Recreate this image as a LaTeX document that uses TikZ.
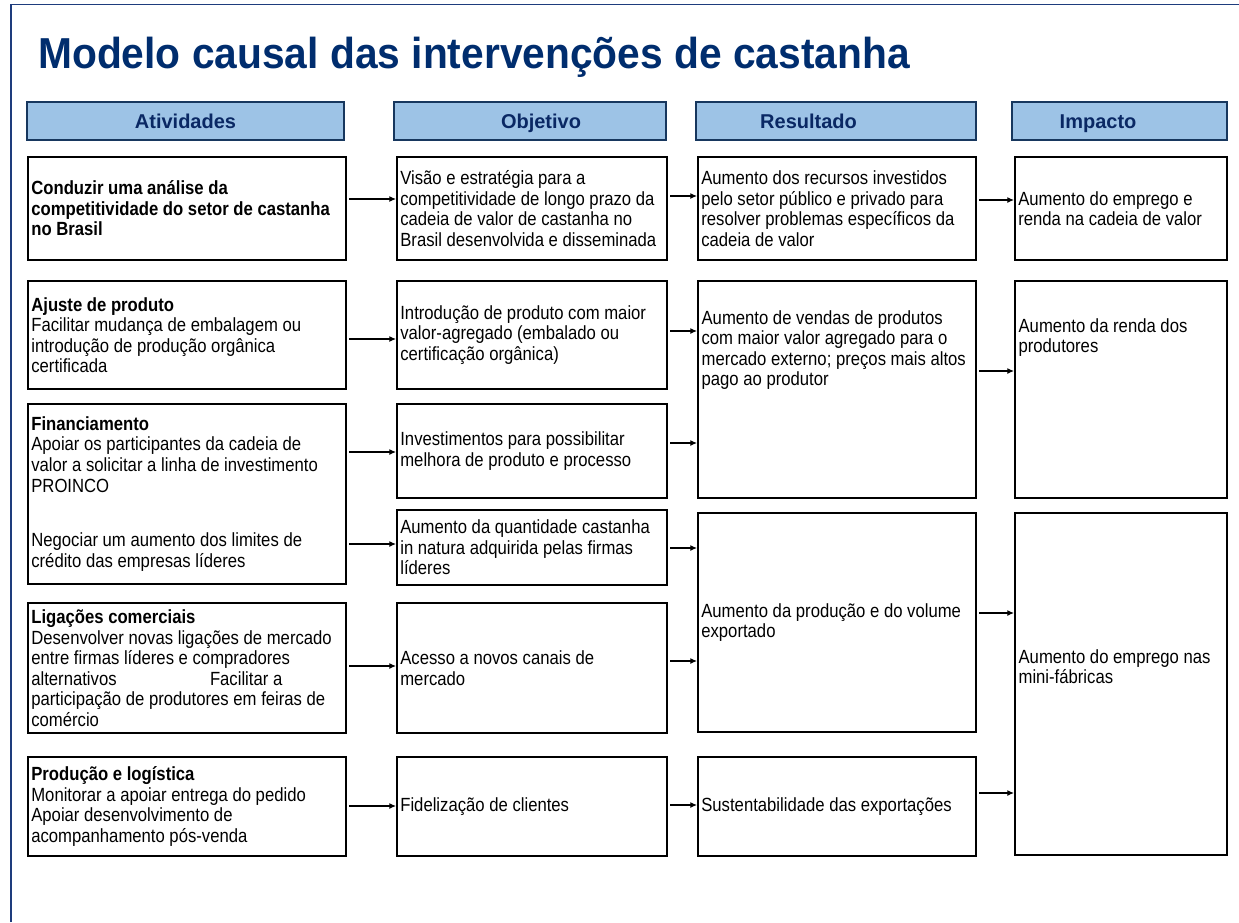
\documentclass[tikz,border=0pt]{standalone}
\usepackage{fontspec}
\setmainfont{Liberation Sans}
\newfontfamily\boxfont{Liberation Sans}[FakeStretch=0.875]
\newfontfamily\titlefont{Liberation Sans}[FakeStretch=0.94]
\usetikzlibrary{%
  arrows.meta,
}

\definecolor{titleblue}{RGB}{0,45,110}
\definecolor{headblue}{RGB}{10,40,100}
\definecolor{headfill}{RGB}{157,195,230}
\definecolor{headline}{RGB}{23,55,94}
\definecolor{framecol}{RGB}{30,60,125}

\begin{document}
\begin{tikzpicture}[%
           x=0.75pt, y=-0.75pt,
           box/.style={
             % The shape:
             rectangle,
             anchor=north west,
             % The border:
             draw=black,
             line width=1.5pt,
             % The text:
             align=flush left,
             inner xsep=2.5pt,
             inner ysep=0pt,
             font=\boxfont\fontsize{14.3pt}{15.4pt}\selectfont,
           },
           act/.style={box, minimum width=238.5pt, text width=233.5pt},
           obj/.style={box, minimum width=202.5pt, text width=197.5pt},
           res/.style={box, minimum width=208.5pt, text width=203.5pt},
           imp/.style={box, minimum width=159pt, text width=154pt},
           head/.style={
             rectangle,
             anchor=north west,
             minimum height=28.5pt,
             line width=1.5pt,
             draw=headline,
             fill=headfill,
           },
           headtext/.style={
             text=headblue,
             text height=10.5pt,
             text depth=0pt,
             font=\bfseries\fontsize{15pt}{18pt}\selectfont,
           },
           toptext/.style={
             anchor=north west,
             align=flush left,
             inner sep=0pt,
             font=\boxfont\fontsize{14.3pt}{15.4pt}\selectfont,
           },
           link/.style={
             -{Latex[length=5pt, width=4.5pt]},
             line width=0.9pt,
             shorten <=1.5pt,
           }]

         \useasboundingbox (0,0) rectangle (1239,922);
         \draw[framecol, line width=1pt] (11,922) -- (11,4.5) -- (1239,4.5);

         \node[anchor=base west, inner sep=0pt, text=titleblue,
               font=\titlefont\bfseries\fontsize{32.5pt}{38pt}\selectfont] (title) at (38,68)
               {Modelo causal das interven\c{c}\~oes de castanha};

         % column heads
         \node[head, minimum width=237.75pt] (hact) at (26,101) {};
         \node[head, minimum width=204pt] (hobj) at (393,101) {};
         \node[head, minimum width=210pt] (hres) at (695,101) {};
         \node[head, minimum width=161.25pt] (himp) at (1011,101) {};
         \node[headtext] (tact) at (hact.center) {Atividades};
         \node[headtext] (tobj) at ([xshift=8.25pt]hobj.center) {Objetivo};
         \node[headtext] (tres) at ([xshift=-20.6pt]hres.center) {Resultado};
         \node[headtext] (timp) at ([xshift=-16.1pt]himp.center) {Impacto};

         % Atividades
         \node[act, minimum height=77.25pt, font=\boxfont\bfseries\fontsize{14.3pt}{15.4pt}\selectfont] (act1) at (27,156)
               {Conduzir uma análise da\\competitividade do setor de castanha\\no Brasil};
         \node[act, minimum height=81pt] (act2) at (27,280)
               {\textbf{Ajuste de produto}\\Facilitar mudança de embalagem ou\\introdução de produção orgânica\\certificada};
         \node[act, minimum height=135pt] (act3) at (27,403)
               {\textbf{Financiamento}\\Apoiar os participantes da cadeia de\\valor a solicitar a linha de investimento\\PROINCO\\[25.75pt]Negociar um aumento dos limites de\\crédito das empresas líderes};
         \node[act, minimum height=97.5pt] (act4) at (27,602)
               {\textbf{Ligações comerciais}\\Desenvolver novas ligações de mercado\\entre firmas líderes e compradores\\\makebox[134pt][l]{alternativos}Facilitar a\\participação de produtores em feiras de\\comércio};
         \node[act, minimum height=74.25pt] (act5) at (27,756)
               {\textbf{Produção e logística}\\Monitorar a apoiar entrega do pedido\\Apoiar desenvolvimento de\\acompanhamento pós-venda};

         % Objetivo
         \node[obj, minimum height=77.25pt] (obj1) at (396,156)
               {Visão e estratégia para a\\competitividade de longo prazo da\\cadeia de valor de castanha no\\Brasil desenvolvida e disseminada};
         \node[obj, minimum height=81pt] (obj2) at (396,280)
               {Introdução de produto com maior\\valor-agregado (embalado ou\\certificação orgânica)};
         \node[obj, minimum height=70.5pt] (obj3) at (396,403)
               {Investimentos para possibilitar\\melhora de produto e processo};
         \node[obj, minimum height=56.25pt] (obj4) at (396,509)
               {Aumento da quantidade castanha\\in natura adquirida pelas firmas\\líderes};
         \node[obj, minimum height=97.5pt] (obj5) at (396,602)
               {Acesso a novos canais de\\mercado};
         \node[obj, minimum height=74.25pt] (obj6) at (396,756)
               {Fidelização de clientes};

         % Resultado
         \node[res, minimum height=77.25pt] (res1) at (697,156)
               {Aumento dos recursos investidos\\pelo setor público e privado para\\resolver problemas específicos da\\cadeia de valor};
         \node[res, minimum height=162.75pt] (res2) at (697,280) {};
         \node[toptext] (res2t) at ([xshift=3.25pt, yshift=-22.6pt]res2.north west)
               {Aumento de vendas de produtos\\com maior valor agregado para o\\mercado externo; preços mais altos\\pago ao produtor};
         \node[res, minimum height=164.25pt] (res3) at (697,512)
               {Aumento da produção e do volume\\exportado};
         \node[res, minimum height=74.25pt] (res4) at (697,756)
               {Sustentabilidade das exportações};

         % Impacto
         \node[imp, minimum height=77.25pt] (imp1) at (1014,156)
               {Aumento do emprego e\\renda na cadeia de valor};
         \node[imp, minimum height=162.75pt] (imp2) at (1014,280) {};
         \node[toptext] (imp2t) at ([xshift=3.25pt, yshift=-28.6pt]imp2.north west)
               {Aumento da renda dos\\produtores};
         \node[imp, minimum height=256.5pt] (imp3) at (1014,512) {};
         \node[toptext] (imp3t) at ([xshift=3.25pt, yshift=-102.85pt]imp3.north west)
               {Aumento do emprego nas\\mini-fábricas};

         % links
         \draw[link] (act1.east |- 0,199) -- (obj1.west |- 0,199);
         \draw[link] (obj1.east |- 0,196) -- (res1.west |- 0,196);
         \draw[link] (res1.east |- 0,200) -- (imp1.west |- 0,200);
         \draw[link] (act2.east |- 0,339) -- (obj2.west |- 0,339);
         \draw[link] (obj2.east |- 0,331) -- (res2.west |- 0,331);
         \draw[link] (obj3.east |- 0,443) -- (res2.west |- 0,443);
         \draw[link] (res2.east |- 0,371) -- (imp2.west |- 0,371);
         \draw[link] (act3.east |- 0,452) -- (obj3.west |- 0,452);
         \draw[link] (act3.east |- 0,544) -- (obj4.west |- 0,544);
         \draw[link] (obj4.east |- 0,548) -- (res3.west |- 0,548);
         \draw[link] (act4.east |- 0,666) -- (obj5.west |- 0,666);
         \draw[link] (obj5.east |- 0,661) -- (res3.west |- 0,661);
         \draw[link] (res3.east |- 0,613) -- (imp3.west |- 0,613);
         \draw[link] (act5.east |- 0,806) -- (obj6.west |- 0,806);
         \draw[link] (obj6.east |- 0,805) -- (res4.west |- 0,805);
         \draw[link] (res4.east |- 0,793) -- (imp3.west |- 0,793);
       \end{tikzpicture}
\end{document}
